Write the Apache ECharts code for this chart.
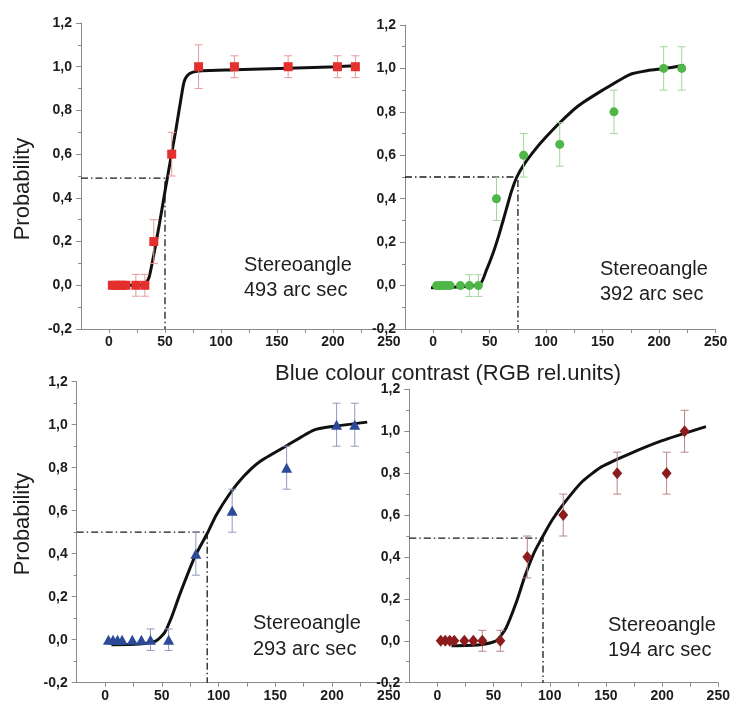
<!DOCTYPE html>
<html><head><meta charset="utf-8">
<script src="https://cdn.jsdelivr.net/npm/echarts@6/dist/echarts.min.js"></script>
<style>html,body{margin:0;padding:0;background:#fff}#c{width:734px;height:703px}</style>
</head><body><div id="c"></div>
<script>
// ---------- tick labels ----------
const xTickValues = [0, 25, 50, 75, 100, 125, 150, 175, 200, 225, 250];
const xLabelValues = [0, 50, 100, 150, 200, 250];
const yLabelMin = -0.2, yLabelMax = 1.2, yLabelStep = 0.2;
const xTitle = 'Blue colour contrast (RGB rel.units)';
const yTitle = 'Probability';

// ---------- panel 1 : 493 arc sec (red squares) ----------
const xRed   = [3, 6, 9, 12, 15, 24, 32, 40, 56, 80, 112, 160, 204, 220];
const yRed   = [0, 0, 0, 0, 0, 0, 0, 0.2, 0.6, 1.0, 1.0, 1.0, 1.0, 1.0];
const errRed = [0, 0, 0, 0, 0, 0.05, 0.05, 0.1, 0.1, 0.1, 0.05, 0.05, 0.05, 0.05];
const fitRedX = [0, 30, 33, 36, 40, 45, 50, 55, 60, 64.5, 67, 70, 75, 83, 112, 160, 204, 222];
const fitRedY = [0, 0, 0.01, 0.04, 0.14, 0.28, 0.43, 0.575, 0.72, 0.86, 0.93, 0.96, 0.975, 0.982, 0.986, 0.993, 1.0, 1.005];
const thrRed = [50, 0.49];
const labelRed = ['Stereoangle', '493 arc sec'];

// ---------- panel 2 : 392 arc sec (green circles) ----------
const xGreen   = [3, 6, 9, 12, 15, 24, 32, 40, 56, 80, 112, 160, 204, 220];
const yGreen   = [0, 0, 0, 0, 0, 0, 0, 0, 0.4, 0.6, 0.65, 0.8, 1.0, 1.0];
const errGreen = [0, 0, 0, 0, 0, 0, 0.05, 0.05, 0.1, 0.1, 0.1, 0.1, 0.1, 0.1];
const fitGreenX = [-2, 41, 47, 53, 58, 63, 69, 74, 80, 90, 100, 112, 128, 150, 174, 190, 205, 222];
const fitGreenY = [-0.01, 0.005, 0.07, 0.15, 0.23, 0.32, 0.43, 0.50, 0.555, 0.625, 0.685, 0.75, 0.826, 0.90, 0.972, 0.99, 1.0, 1.015];
const thrGreen = [75, 0.5];
const labelGreen = ['Stereoangle', '392 arc sec'];

// ---------- panel 3 : 293 arc sec (blue triangles) ----------
const xBlue   = [3, 7, 11, 15, 24, 32, 40, 56, 80, 112, 160, 204, 220];
const yBlue   = [0, 0, 0, 0, 0, 0, 0, 0, 0.4, 0.6, 0.8, 1.0, 1.0];
const errBlue = [0, 0, 0, 0, 0, 0, 0.05, 0.05, 0.1, 0.1, 0.1, 0.1, 0.1];
const fitBlueX = [5.6, 30, 45, 52.6, 59, 66, 79, 90, 98, 110, 122, 136.5, 160, 183.5, 201, 231];
const fitBlueY = [-0.023, -0.02, -0.005, 0.034, 0.11, 0.213, 0.385, 0.494, 0.58, 0.68, 0.759, 0.829, 0.902, 0.974, 0.992, 1.012];
const thrBlue = [90, 0.5];
const labelBlue = ['Stereoangle', '293 arc sec'];

// ---------- panel 4 : 194 arc sec (dark red diamonds) ----------
const xDark   = [3, 7, 11, 15, 24, 32, 40, 56, 80, 112, 160, 204, 220];
const yDark   = [0, 0, 0, 0, 0, 0, 0, 0, 0.4, 0.6, 0.8, 0.8, 1.0];
const errDark = [0, 0, 0, 0, 0, 0, 0.05, 0.05, 0.1, 0.1, 0.1, 0.1, 0.1];
const fitDarkX = [12.6, 37.6, 52.4, 61, 70, 78, 86, 94, 102, 114, 129, 146, 170, 200, 239];
const fitDarkY = [-0.024, -0.019, 0, 0.06, 0.18, 0.31, 0.42, 0.50, 0.575, 0.665, 0.76, 0.83, 0.89, 0.955, 1.022];
const thrDark = [94, 0.49];
const labelDark = ['Stereoangle', '194 arc sec'];

// ---------- layout / styles ----------
const FONT = '"Liberation Sans", Arial, sans-serif';
const panels = [
  {grid:{left:81, top:23, width:321.4, height:306}, xmax:262, xs:xRed, ys:yRed, es:errRed, fx:fitRedX, fy:fitRedY, thr:thrRed, lab:labelRed,
   symbol:'rect', size:9, color:'#e3302c', ecolor:'#e49a98', labPos:[244, 267, 292]},
  {grid:{left:405, top:25, width:310.6, height:304}, xmax:250, xs:xGreen, ys:yGreen, es:errGreen, fx:fitGreenX, fy:fitGreenY, thr:thrGreen, lab:labelGreen,
   symbol:'circle', size:9, color:'#4fb748', ecolor:'#a3d69e', labPos:[600, 271, 296]},
  {grid:{left:76.7, top:381.7, width:325.7, height:301}, xmax:262, xs:xBlue, ys:yBlue, es:errBlue, fx:fitBlueX, fy:fitBlueY, thr:thrBlue, lab:labelBlue,
   symbol:'triangle', size:[11,10], color:'#2c4a97', ecolor:'#8e9bbd', labPos:[253, 625, 651]},
  {grid:{left:409.3, top:389.3, width:309, height:293.4}, xmax:250, xs:xDark, ys:yDark, es:errDark, fx:fitDarkX, fy:fitDarkY, thr:thrDark, lab:labelDark,
   symbol:'diamond', size:[10,12], color:'#8c1c1e', ecolor:'#bb8586', labPos:[608, 627, 652]}
];

function errItem(params, api){
  const x = api.value(0), lo = api.value(1), hi = api.value(2);
  const p1 = api.coord([x, lo]), p2 = api.coord([x, hi]);
  const w = 4;
  const style = {stroke: api.visual('color'), lineWidth: 1};
  return {type:'group', children:[
    {type:'line', shape:{x1:p1[0], y1:p1[1], x2:p2[0], y2:p2[1]}, style:style},
    {type:'line', shape:{x1:p1[0]-w, y1:p1[1], x2:p1[0]+w, y2:p1[1]}, style:style},
    {type:'line', shape:{x1:p2[0]-w, y1:p2[1], x2:p2[0]+w, y2:p2[1]}, style:style}
  ]};
}

const grids = [], xAxes = [], yAxes = [], series = [], graphics = [];
panels.forEach(function(p, i){
  grids.push(Object.assign({containLabel:false}, p.grid));
  xAxes.push({
    type:'value', gridIndex:i, min:-25, max:p.xmax,
    axisLine:{show:true, onZero:false, lineStyle:{color:'#8a8a8a', width:1}},
    axisTick:{show:true, length:4, lineStyle:{color:'#8a8a8a'}, customValues:xTickValues},
    axisLabel:{show:true, customValues:xLabelValues, margin:6, fontFamily:FONT, fontWeight:'bold', fontSize:14, color:'#1c1c1c'},
    splitLine:{show:false}
  });
  yAxes.push({
    type:'value', gridIndex:i, min:yLabelMin, max:yLabelMax, interval:yLabelStep,
    axisLine:{show:true, onZero:false, lineStyle:{color:'#8a8a8a', width:1}},
    axisTick:{show:true, length:5, lineStyle:{color:'#8a8a8a'}},
    minorTick:{show:true, splitNumber:2, length:3, lineStyle:{color:'#8a8a8a'}},
    axisLabel:{margin:9, fontFamily:FONT, fontWeight:'bold', fontSize:14, color:'#1c1c1c',
      formatter:function(v){ return (Math.round(v*10)/10).toFixed(1).replace('.', ','); }},
    splitLine:{show:false}
  });
  // threshold dash-dot line
  series.push({
    type:'line', xAxisIndex:i, yAxisIndex:i, silent:true, showSymbol:false, z:2,
    data:[[-25, p.thr[1]], [p.thr[0], p.thr[1]], [p.thr[0], yLabelMin]],
    lineStyle:{color:'#1a1a1a', width:1.3, type:[7,3,1.5,3]}
  });
  // fitted curve
  series.push({
    type:'line', xAxisIndex:i, yAxisIndex:i, silent:true, showSymbol:false, z:3,
    smooth:0.2,
    data:p.fx.map(function(x, k){ return [x, p.fy[k]]; }),
    lineStyle:{color:'#111', width:3}
  });
  // error bars
  series.push({
    type:'custom', xAxisIndex:i, yAxisIndex:i, silent:true, z:4,
    renderItem:errItem, itemStyle:{color:p.ecolor},
    encode:{x:0, y:[1,2]},
    data:p.xs.map(function(x, k){ return [x, p.ys[k]-p.es[k], p.ys[k]+p.es[k]]; }).filter(function(d, k){ return p.es[k] > 0; })
  });
  // markers
  series.push({
    type:'scatter', xAxisIndex:i, yAxisIndex:i, silent:true, z:5,
    symbol:p.symbol, symbolSize:p.size, itemStyle:{color:p.color, opacity:1},
    data:p.xs.map(function(x, k){ return [x, p.ys[k]]; })
  });
  graphics.push({type:'text', left:p.labPos[0], top:p.labPos[1]-12, style:{text:p.lab[0], font:'20px ' + FONT, fill:'#1e1e1e'}});
  graphics.push({type:'text', left:p.labPos[0], top:p.labPos[2]-12, style:{text:p.lab[1], font:'20px ' + FONT, fill:'#1e1e1e'}});
});

graphics.push({type:'text', x:23, y:189, rotation:Math.PI/2,
  style:{text:yTitle, font:'22px ' + FONT, fill:'#1e1e1e', align:'center', verticalAlign:'middle'}});
graphics.push({type:'text', x:23, y:524, rotation:Math.PI/2,
  style:{text:yTitle, font:'22px ' + FONT, fill:'#1e1e1e', align:'center', verticalAlign:'middle'}});
graphics.push({type:'text', x:448, y:374,
  style:{text:xTitle, font:'22px ' + FONT, fill:'#1e1e1e', align:'center', verticalAlign:'middle'}});

const chart = echarts.init(document.getElementById('c'), null, {renderer:'canvas'});
chart.setOption({
  animation:false,
  backgroundColor:'#ffffff',
  grid:grids, xAxis:xAxes, yAxis:yAxes, series:series, graphic:graphics
});
</script>
</body></html>
